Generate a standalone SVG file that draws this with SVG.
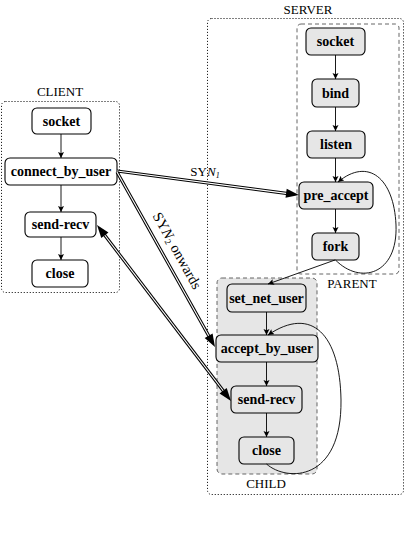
<svg xmlns="http://www.w3.org/2000/svg" width="415" height="535" viewBox="0 0 415 535">
<style>
.box{stroke:#000;stroke-width:1.1;}
.cn{fill:#fff;}
.sn{fill:#e6e6e6;}
.nt{font-family:"Liberation Serif",serif;font-weight:bold;font-size:14px;text-anchor:middle;fill:#000;}
.lbl{font-family:"Liberation Serif",serif;font-size:13px;text-anchor:middle;fill:#000;}
.big{font-size:14.5px;}
.dot{fill:none;stroke:#000;stroke-width:1;stroke-dasharray:1 2;}
.dash{stroke:#555;stroke-width:0.9;stroke-dasharray:4 3;}
.ar{fill:none;stroke:#000;stroke-width:0.9;marker-end:url(#ah);}
.dbo{fill:none;stroke:#000;stroke-width:3.2;}
.dbi{fill:none;stroke:#fff;stroke-width:1.1;}
.hd{fill:#000;}
</style>
<defs>
<marker id="ah" markerWidth="8" markerHeight="8" refX="6" refY="3" orient="auto" markerUnits="userSpaceOnUse">
<path d="M0,0 L6,3 L0,6 L1.2,3 z" fill="#000"/>
</marker>
</defs>
<g id="containers">
<rect id="client-box" x="1.5" y="101.5" width="118" height="191" rx="4" class="dot"/>
<text class="lbl" x="60" y="96">CLIENT</text>
<rect id="server-box" x="207.5" y="18.5" width="196" height="476" rx="4" class="dot"/>
<text class="lbl" x="308" y="14">SERVER</text>
<rect id="parent-box" x="297" y="24" width="102" height="250" rx="4" fill="none" class="dash"/>
<text class="lbl" x="352" y="288">PARENT</text>
<rect id="child-box" x="217" y="278" width="100" height="196" rx="5" fill="#e6e6e6" class="dash"/>
<text class="lbl" x="266" y="488">CHILD</text>
</g>
<g id="client-socket"><rect class="box cn" x="32" y="108" width="59" height="26" rx="5"/><text class="nt" x="61.5" y="125.5">socket</text></g>
<g id="client-connect"><rect class="box cn" x="5" y="158" width="112" height="27" rx="5"/><text class="nt" x="61" y="176">connect_by_user</text></g>
<g id="client-sendrecv"><rect class="box cn" x="25" y="212" width="71" height="25" rx="5"/><text class="nt" x="60.5" y="229">send-recv</text></g>
<g id="client-close"><rect class="box cn" x="32" y="260" width="56" height="27" rx="5"/><text class="nt" x="60" y="278">close</text></g>
<g id="server-socket"><rect class="box sn" x="306" y="28" width="59" height="27" rx="5"/><text class="nt" x="335.5" y="46">socket</text></g>
<g id="server-bind"><rect class="box sn" x="312" y="79" width="47" height="28" rx="5"/><text class="nt" x="335.5" y="97.5">bind</text></g>
<g id="server-listen"><rect class="box sn" x="307" y="131" width="58" height="27" rx="5"/><text class="nt" x="336" y="149">listen</text></g>
<g id="server-preaccept"><rect class="box sn" x="299" y="182" width="74" height="27" rx="5"/><text class="nt" x="336" y="200">pre_accept</text></g>
<g id="server-fork"><rect class="box sn" x="312" y="233" width="47" height="27" rx="5"/><text class="nt" x="335.5" y="251">fork</text></g>
<g id="child-setnetuser"><rect class="box sn" x="227" y="284" width="79" height="28" rx="5"/><text class="nt" x="266.5" y="302.5">set_net_user</text></g>
<g id="child-acceptbyuser"><rect class="box sn" x="216" y="335" width="102" height="27" rx="5"/><text class="nt" x="267" y="353">accept_by_user</text></g>
<g id="child-sendrecv"><rect class="box sn" x="231" y="386" width="71" height="27" rx="5"/><text class="nt" x="266.5" y="404">send-recv</text></g>
<g id="child-close"><rect class="box sn" x="239" y="437" width="55" height="27" rx="5"/><text class="nt" x="266.5" y="455">close</text></g>
<g id="connectors">
<path class="ar" d="M61,134 L61,158"/>
<path class="ar" d="M61,185 L61,212"/>
<path class="ar" d="M61,237 L61,260"/>
<path class="ar" d="M335.5,55 L335.5,79"/>
<path class="ar" d="M335.5,107 L335.5,131"/>
<path class="ar" d="M335.5,158 L335.5,182"/>
<path class="ar" d="M335.5,209 L335.5,233"/>
<path class="ar" d="M335.5,260 C360,285 398,275 396,225 C394,178 368,157 338,182"/>
<path class="ar" d="M335,260 L268,284"/>
<path class="ar" d="M266.5,312 L266.5,335"/>
<path class="ar" d="M266.5,362 L266.5,386"/>
<path class="ar" d="M266.5,413 L266.5,437"/>
<path class="ar" d="M266.5,464 C287,482 342,482 341,400 C340,335 312,305 268,335"/>
<path class="dbo" d="M117,171 L288.1,193.6"/>
<path class="dbi" d="M117,171 L288.1,193.6"/>
<polygon class="hd" points="299,195 285.5,197.8 286.7,188.8"/>
<path class="dbo" d="M117,172 L210.1,338.3"/>
<path class="dbi" d="M117,172 L210.1,338.3"/>
<polygon class="hd" points="215,347 204.7,337.9 212.6,333.5"/>
<path class="dbo" d="M103.06,232.96 L224.94,393.04"/>
<path class="dbi" d="M103.06,232.96 L224.94,393.04"/>
<polygon class="hd" points="231,401 219.54,393.39 226.70,387.93"/>
<polygon class="hd" points="97,225 101.30,238.07 108.46,232.61"/>
<text class="lbl" x="205" y="176">SY<tspan font-style="italic">N</tspan><tspan font-size="8" dy="2" font-style="italic">1</tspan></text>
<text class="lbl big" transform="translate(173,253) rotate(60.9)" x="0" y="0">SY<tspan font-style="italic">N</tspan><tspan font-size="9" dy="2">2</tspan><tspan dy="-2"> onwards</tspan></text>
</g>
</svg>
